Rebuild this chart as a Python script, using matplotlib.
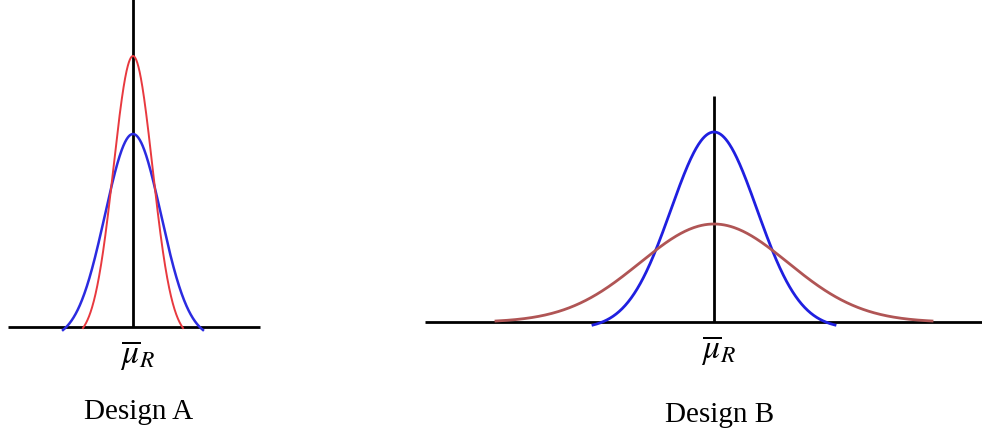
import numpy as np
import matplotlib
matplotlib.use("Agg")
import matplotlib.pyplot as plt

plt.rcParams['mathtext.fontset'] = 'stix'
plt.rcParams['font.family'] = ['Liberation Serif', 'DejaVu Serif']

# curve parameters (pixel-like units): peak height, sigma, half span, end offset
designs = ["Design A", "Design B"]
peaks = [[193, 271], [190, 98]]
sigmas = [[28, 19.5], [43, 74]]
spans = [[70, 50], [121, 218]]
end_offsets = [[-3, -1], [-3, 1]]
colors = [["#2b2be0", "#e8393f"], ["#1f1fe0", "#b05555"]]
widths = [[1.8, 1.4], [2.0, 2.0]]

# axis geometry
ax_pos = [[0, 0, 270 / 982, 1], [400 / 982, 0, 582 / 982, 1]]
xlims = [(-133, 137), (-314, 268)]
ylims = [(-107, 328), (-112, 323)]
hlines = [(-125, 127), (-289, 268)]
vtops = [328, 226]
label_y = [-27, -27]
title_y = [-84, -92]

fig = plt.figure(figsize=(9.82, 4.35), dpi=100)
for i in range(2):
    ax = fig.add_axes(ax_pos[i])
    ax.set_xlim(*xlims[i])
    ax.set_ylim(*ylims[i])
    ax.axis('off')
    ax.plot(hlines[i], [0, 0], color='black', lw=2, solid_capstyle='butt')
    ax.plot([0, 0], [0, vtops[i]], color='black', lw=2, solid_capstyle='butt')
    for p, s, L, off, c, w in zip(peaks[i], sigmas[i], spans[i], end_offsets[i], colors[i], widths[i]):
        x = np.linspace(-L, L, 400)
        g = np.exp(-x ** 2 / (2 * s ** 2))
        gend = np.exp(-L ** 2 / (2 * s ** 2))
        y = off + (p - off) * (g - gend) / (1 - gend)
        ax.plot(x, y, color=c, lw=w)
    ax.text(4, label_y[i], r'$\overline{\mu}_R$', fontsize=24, ha='center', va='center')
    ax.text(6, title_y[i], designs[i], fontsize=21, ha='center', va='center')

fig.savefig("out.png", dpi=100)
